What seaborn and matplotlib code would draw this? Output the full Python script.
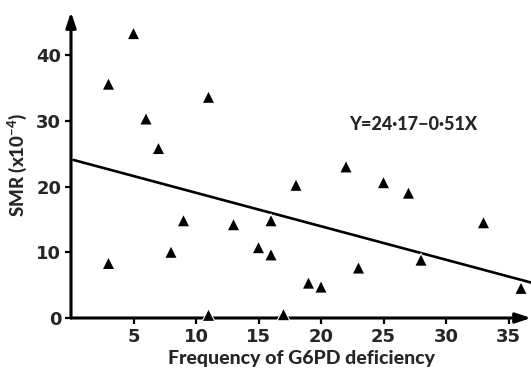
import matplotlib
matplotlib.use("Agg")
import matplotlib.pyplot as plt
import seaborn as sns
import numpy as np
import pandas as pd

# Data
freq = [3, 3, 5, 6, 7, 8, 9, 11, 11, 13, 15, 16, 16, 17, 18, 19, 20, 22, 23, 25, 27, 28, 33, 36]
smr = [35.6, 8.3, 43.3, 30.3, 25.8, 10.0, 14.8, 33.6, 0.4, 14.2, 10.7, 14.8, 9.6, 0.5, 20.2, 5.3, 4.7, 23.0, 7.6, 20.6, 19.0, 8.8, 14.5, 4.5]
intercept = 24.17
slope = -0.51
line_x = [0.2, 36.8]
x_ticks = [5, 10, 15, 20, 25, 30, 35]
y_ticks = [0, 10, 20, 30, 40]
equation = "Y=24·17−0·51X"
xlabel = "Frequency of G6PD deficiency"
ylabel = "SMR (x10$^{-4}$)"

df = pd.DataFrame({"freq": freq, "smr": smr})
line_df = pd.DataFrame({"x": line_x, "y": [intercept + slope * v for v in line_x]})

sns.set_style("white")
plt.rcParams["font.family"] = ["Lato", "DejaVu Sans"]
plt.rcParams["mathtext.default"] = "regular"

fig = plt.figure(figsize=(5.31, 3.72), dpi=100)
ax = fig.add_axes([71 / 531, 54 / 372, 1 - 71 / 531, 1 - 54 / 372 - 12 / 372])

sns.lineplot(data=line_df, x="x", y="y", ax=ax, color="black", lw=1.9, zorder=3)
sns.scatterplot(data=df, x="freq", y="smr", ax=ax, marker="^", s=130, color="white",
                edgecolor="none", zorder=4, clip_on=False)
sns.scatterplot(data=df, x="freq", y="smr", ax=ax, marker="^", s=62, color="black",
                edgecolor="none", zorder=5, clip_on=False)

ax.set_xlim(0, 36.8)
ax.set_ylim(0, 46.6)
for s in ax.spines.values():
    s.set_visible(False)

# axes with arrowheads
ax.annotate("", xy=(0, 1), xytext=(0, 0), xycoords="axes fraction",
            arrowprops=dict(arrowstyle="-|>,head_length=0.9,head_width=0.3", lw=2.2,
                            color="black", shrinkA=0, shrinkB=0), zorder=2)
ax.annotate("", xy=(1, 0), xytext=(0, 0), xycoords="axes fraction",
            arrowprops=dict(arrowstyle="-|>,head_length=0.9,head_width=0.3", lw=2.2,
                            color="black", shrinkA=0, shrinkB=0), zorder=2)

ax.set_xticks(x_ticks)
ax.set_yticks(y_ticks)
ax.tick_params(axis="both", direction="out", length=4, width=1.6, color="black",
               labelsize=13, pad=3, bottom=True, left=True)
for lab in ax.get_xticklabels() + ax.get_yticklabels():
    lab.set_fontweight("bold")
    lab.set_family(["DejaVu Sans"])

ax.set_xlabel(xlabel, fontsize=14, fontweight="black", labelpad=3)
ax.set_ylabel(ylabel, fontsize=13.5, fontweight="black", labelpad=5)

ax.text(27.4, 29.4, equation, fontsize=13, fontweight="black", ha="center", va="center")

fig.savefig("out.png", dpi=100)
